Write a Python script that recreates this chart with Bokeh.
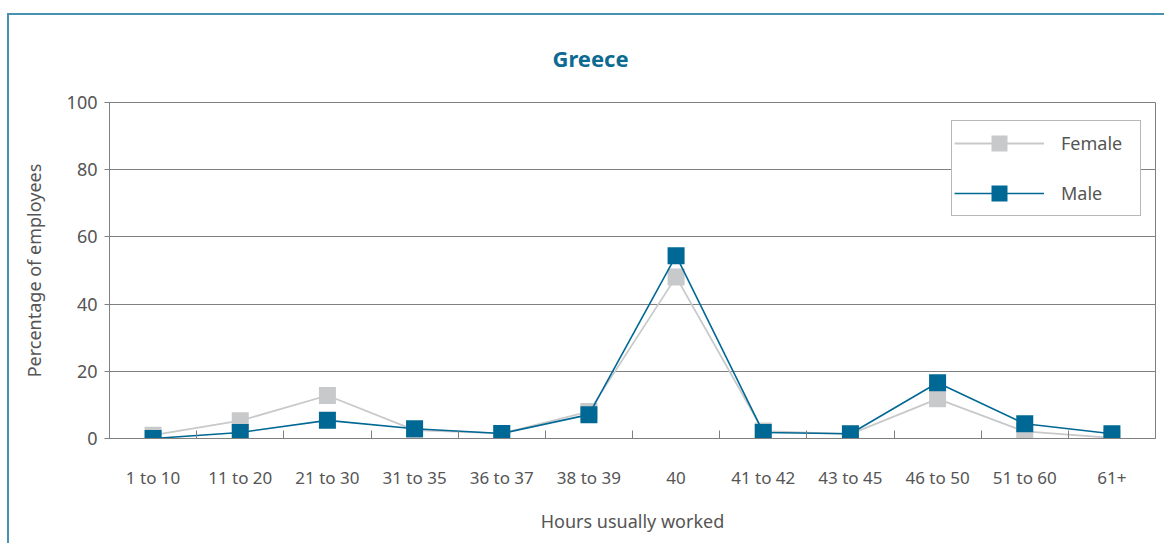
from bokeh.plotting import figure
from bokeh.models import Range1d, FixedTicker, Legend, LegendItem, ColumnDataSource
from bokeh.embed import file_html
from bokeh.resources import INLINE

categories = ["1 to 10", "11 to 20", "21 to 30", "31 to 35", "36 to 37", "38 to 39",
              "40", "41 to 42", "43 to 45", "46 to 50", "51 to 60", "61+"]
female = [1.0, 5.3, 12.8, 2.5, 1.5, 8.0, 48.1, 2.2, 1.3, 11.8, 2.1, 0.2]
male = [0.0, 1.8, 5.4, 2.9, 1.5, 7.1, 54.4, 1.8, 1.4, 16.6, 4.4, 1.4]
y_ticks = [0, 20, 40, 60, 80, 100]
title_text = "Greece"

FONT = "Noto Sans"
TXT = "#555555"
FEMALE_C = "#C8C9CB"
MALE_C = "#006894"

xs = [i + 0.5 for i in range(len(categories))]
src = ColumnDataSource(dict(x=xs, female=female, male=male))

p = figure(width=1157, height=530, x_range=Range1d(0, len(categories)), y_range=Range1d(0, 100),
           output_backend="svg", toolbar_location=None,
           min_border_left=100, min_border_right=11, min_border_top=87, min_border_bottom=107)
p.margin = (13, 0, 0, 7)
p.styles = {"border-top": "2px solid #4a90b0", "border-left": "2px solid #4a90b0"}

p.outline_line_color = "#808080"
p.background_fill_color = "white"
p.border_fill_color = "white"

# title
p.title.text = title_text
p.title.text_font = FONT
p.title.text_font_size = "22px"
p.title.text_font_style = "bold"
p.title.text_color = "#0d6a92"
p.title.align = "left"
p.title.offset = 443
p.title.vertical_align = "top"
p.title.standoff = 55

# x axis
xa = p.xaxis[0]
xa.ticker = FixedTicker(ticks=xs, minor_ticks=list(range(1, len(categories))))
xa.major_label_overrides = {x: c for x, c in zip(xs, categories)}
xa.major_tick_line_color = None
xa.minor_tick_in = 8
xa.minor_tick_out = 0
xa.minor_tick_line_color = "#808080"
xa.axis_line_color = "#808080"
xa.major_label_text_font = FONT
xa.major_label_text_font_size = "17px"
xa.major_label_text_color = TXT
xa.major_label_standoff = 21
xa.axis_label = "Hours usually worked"
xa.axis_label_text_font = FONT
xa.axis_label_text_font_size = "18px"
xa.axis_label_text_font_style = "normal"
xa.axis_label_text_color = TXT
xa.axis_label_standoff = 17

# y axis
ya = p.yaxis[0]
ya.ticker = FixedTicker(ticks=y_ticks)
ya.major_tick_in = 0
ya.major_tick_out = 5
ya.major_tick_line_color = "#808080"
ya.minor_tick_line_color = None
ya.axis_line_color = "#808080"
ya.major_label_text_font = FONT
ya.major_label_text_font_size = "18px"
ya.major_label_text_color = TXT
ya.major_label_standoff = 7
ya.axis_label = "Percentage of employees"
ya.axis_label_text_font = FONT
ya.axis_label_text_font_size = "18px"
ya.axis_label_text_font_style = "normal"
ya.axis_label_text_color = TXT
ya.axis_label_standoff = 18

p.xgrid.grid_line_color = None
p.ygrid.ticker = FixedTicker(ticks=y_ticks)
p.ygrid.grid_line_color = "#808080"
p.ygrid.grid_line_width = 1

fl = p.line("x", "female", source=src, line_color=FEMALE_C, line_width=1.8)
fs = p.scatter("x", "female", source=src, marker="square", size=17,
               fill_color=FEMALE_C, line_color=None)
ml = p.line("x", "male", source=src, line_color=MALE_C, line_width=1.6)
ms = p.scatter("x", "male", source=src, marker="square", size=17,
               fill_color=MALE_C, line_color=None)

legend = Legend(items=[LegendItem(label="Female", renderers=[fl, fs]),
                       LegendItem(label="Male", renderers=[ml, ms])],
                location=(842, 222), orientation="vertical",
                padding=2, spacing=10, glyph_height=40, glyph_width=90,
                label_standoff=17, label_text_font=FONT, label_text_font_size="18px",
                label_text_color=TXT, label_height=40, label_width=77,
                border_line_color="#707070", border_line_width=1,
                background_fill_color="white", background_fill_alpha=1.0,
                margin=0)
p.add_layout(legend)

open("out.html", "w").write(file_html(p, INLINE))
